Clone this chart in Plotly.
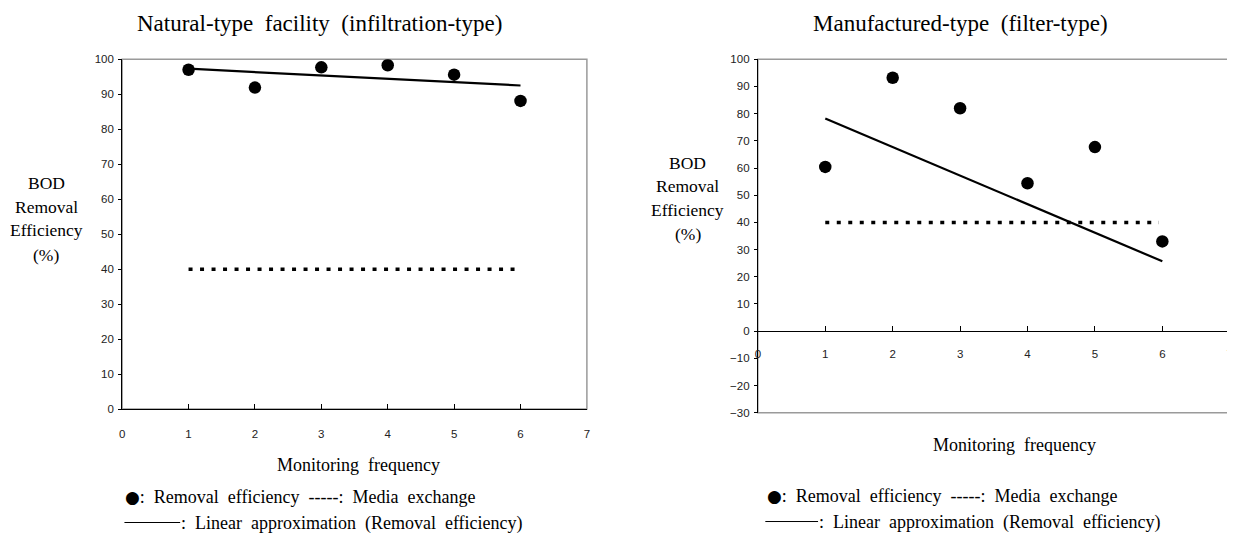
import plotly.graph_objects as go

# ---------------- data ----------------
frequency = [1, 2, 3, 4, 5, 6]
natural_eff = [97.0, 91.9, 97.7, 98.3, 95.6, 88.1]
manufactured_eff = [60.4, 93.2, 82.0, 54.4, 67.7, 33.0]

trend_x = [1, 6]
natural_trend = [97.3, 92.5]
manufactured_trend = [78.2, 25.7]

media_x = [1, 5.95]
media_y = [40, 40]

x_ticks = [0, 1, 2, 3, 4, 5, 6, 7]
natural_y_ticks = [0, 10, 20, 30, 40, 50, 60, 70, 80, 90, 100]
manufactured_y_ticks = [-30, -20, -10, 0, 10, 20, 30, 40, 50, 60, 70, 80, 90, 100]

titles = ["Natural-type\u00a0\u00a0facility\u00a0\u00a0(infiltration-type)",
          "Manufactured-type\u00a0\u00a0(filter-type)"]
y_title_lines = ["BOD", "Removal", "Efficiency", "(%)"]
x_title = "Monitoring\u00a0\u00a0frequency"
legend_line1 = ('<span style="font-family:DejaVu Sans;font-size:17px">\u25cf</span>'
                ":\u00a0\u00a0Removal\u00a0\u00a0efficiency\u00a0\u00a0-----:\u00a0\u00a0Media\u00a0\u00a0exchange")
legend_line2 = ":\u00a0\u00a0Linear\u00a0\u00a0approximation\u00a0\u00a0(Removal\u00a0\u00a0efficiency)"

# ---------------- layout geometry ----------------
# the page body has an 8px margin, so the figure is drawn 8px in from the corner;
# the figure is kept full size so the right-most tick label is cut by the window edge
OFF = 8
W, H = 1235, 543
def px(x):
    return (x - OFF) / W
def py(y):
    return 1 - (y - OFF) / H

L_dom_x = [px(119.7), px(586.7)]
L_dom_y = [py(412), py(54.3)]
R_dom_x = [px(758.5), px(1232.7)]
R_dom_y = [py(415.7), py(54.3)]
R_xaxis_pos = py(332.5)

SERIF = "Liberation Serif, Times New Roman, serif"
SANS = "Liberation Sans, Arial, sans-serif"

fig = go.Figure()

def add_panel(xa, ya, eff, trend):
    fig.add_trace(go.Scatter(x=media_x, y=media_y, mode="lines",
                             line=dict(color="black", width=3.5, dash="4px,7.5px"),
                             xaxis=xa, yaxis=ya, showlegend=False, hoverinfo="skip"))
    fig.add_trace(go.Scatter(x=trend_x, y=trend, mode="lines",
                             line=dict(color="black", width=2.2),
                             xaxis=xa, yaxis=ya, showlegend=False))
    fig.add_trace(go.Scatter(x=frequency, y=eff, mode="markers",
                             marker=dict(color="black", size=12.5),
                             xaxis=xa, yaxis=ya, showlegend=False))

add_panel("x", "y", natural_eff, natural_trend)
add_panel("x2", "y2", manufactured_eff, manufactured_trend)

tickfont = dict(family=SANS, size=11.5, color="#222")

fig.update_layout(
    width=W, height=H, autosize=False,
    margin=dict(l=0, r=0, t=0, b=0),
    paper_bgcolor="white", plot_bgcolor="white",
    showlegend=False,
    xaxis=dict(domain=L_dom_x, range=[0, 7], tickvals=x_ticks, anchor="y",
               showgrid=False, zeroline=False, showline=True, linecolor="black", linewidth=1,
               ticks="inside", ticklen=5, tickcolor="black", tickfont=tickfont,
               ticklabelstandoff=14, ticklabeloverflow="allow"),
    yaxis=dict(domain=L_dom_y, range=[0, 100], tickvals=natural_y_ticks, anchor="x",
               showgrid=False, zeroline=False, showline=True, linecolor="black", linewidth=1,
               ticks="outside", ticklen=3, tickcolor="black", tickfont=tickfont,
               ticklabelstandoff=2),
    xaxis2=dict(domain=R_dom_x, range=[0, 7], tickvals=x_ticks, anchor="free",
                position=R_xaxis_pos,
                showgrid=False, zeroline=False, showline=True, linecolor="black", linewidth=1,
                ticks="inside", ticklen=5, tickcolor="black", tickfont=tickfont,
                ticklabelstandoff=12, ticklabeloverflow="allow"),
    yaxis2=dict(domain=R_dom_y, range=[-30, 100], tickvals=manufactured_y_ticks, anchor="x2",
                showgrid=False, zeroline=False, showline=True, linecolor="black", linewidth=1,
                ticks="outside", ticklen=3, tickcolor="black", tickfont=tickfont,
                ticklabelstandoff=2),
)

# plot boxes (gray)
for dx, dy in [(L_dom_x, L_dom_y), (R_dom_x, R_dom_y)]:
    fig.add_shape(type="rect", xref="paper", yref="paper",
                  x0=dx[0], x1=dx[1], y0=dy[0], y1=dy[1],
                  line=dict(color="#9a9a9a", width=1.5), layer="below")

ann = []
def text(x, y, s, size, anchor="center"):
    ann.append(dict(x=px(x), y=py(y), xref="paper", yref="paper", text=s,
                    showarrow=False, xanchor=anchor, yanchor="middle",
                    font=dict(family=SERIF, size=size, color="black")))

# titles
text(318, 18, titles[0], 23)
text(962, 18, titles[1], 23)

# y titles
for i, (yl, yr) in enumerate(zip([181, 205, 229, 254], [160, 184, 208, 233])):
    text(43.5, yl, y_title_lines[i], 17.5)
    text(688, yr, y_title_lines[i], 17.5)

# x titles
text(357, 469, x_title, 18)
text(1016, 449, x_title, 18)

# legend texts
text(121, 502, legend_line1, 18, "left")
text(177, 529, legend_line2, 18, "left")
text(766, 501, legend_line1, 18, "left")
text(818, 528, legend_line2, 18, "left")

for x0, x1, y in [(122, 178, 528), (766, 819, 527)]:
    fig.add_shape(type="line", xref="paper", yref="paper",
                  x0=px(x0), x1=px(x1), y0=py(y), y1=py(y),
                  line=dict(color="black", width=1))

fig.update_layout(annotations=ann)

fig.write_html("out.html")
